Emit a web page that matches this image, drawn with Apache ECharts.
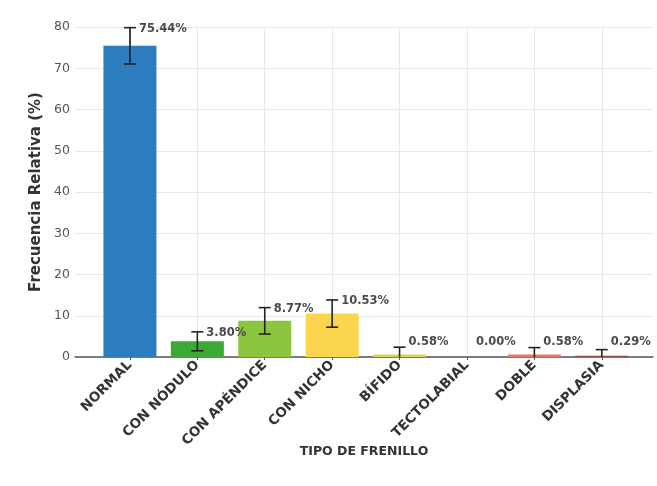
<!DOCTYPE html>
<html>
<head>
<meta charset="utf-8">
<script src="https://cdn.jsdelivr.net/npm/echarts@6/dist/echarts.min.js"></script>
<style>html,body{margin:0;padding:0;background:#fff;}#c{width:657px;height:486px;}</style>
</head>
<body>
<div id="c"></div>
<script>
var categories = ['NORMAL', 'CON NÓDULO', 'CON APÉNDICE', 'CON NICHO', 'BÍFIDO', 'TECTOLABIAL', 'DOBLE', 'DISPLASIA'];
var values = [75.44, 3.80, 8.77, 10.53, 0.58, 0.00, 0.58, 0.29];
var errors = [4.4, 2.3, 3.2, 3.3, 1.8, 0, 1.7, 1.5];
var yTicks = [0, 10, 20, 30, 40, 50, 60, 70, 80];
var colors = ['#2d7cc0', '#3aa935', '#8cc63f', '#fcd54e', '#d8d25c', '#cccccc', '#e8786c', '#9a4a4a'];

var positions = categories.map(function (c, i) { return i; });
var barData = values.map(function (v, i) {
  return { value: [i, v], itemStyle: { color: colors[i] } };
});
var errData = values.map(function (v, i) { return [i, v, errors[i]]; });

var chart = echarts.init(document.getElementById('c'), null, { renderer: 'canvas' });
chart.setOption({
  animation: false,
  backgroundColor: '#fff',
  textStyle: { fontFamily: 'DejaVu Sans' },
  grid: { left: 75, right: 4, top: 27, bottom: 129, containLabel: false },
  xAxis: {
    type: 'value',
    min: -0.815,
    max: 7.76,
    name: 'TIPO DE FRENILLO',
    nameLocation: 'middle',
    nameGap: 88,
    nameMoveOverlap: false,
    nameTextStyle: { fontWeight: 'bold', fontSize: 12.5, color: '#333', fontFamily: 'DejaVu Sans' },
    axisLine: { show: true, onZero: false, lineStyle: { color: '#555', width: 1.5 } },
    axisTick: { show: true, length: 3, customValues: positions, lineStyle: { color: '#555' } },
    axisLabel: {
      customValues: positions,
      rotate: 45,
      margin: 6,
      fontSize: 13.5,
      fontWeight: 'bold',
      color: '#333',
      fontFamily: 'DejaVu Sans',
      formatter: function (v) { return categories[Math.round(v)]; }
    },
    splitLine: { show: true, lineStyle: { color: '#e8e8e8', width: 1 } }
  },
  yAxis: {
    type: 'value',
    min: 0,
    max: 80,
    interval: 10,
    name: 'Frecuencia Relativa (%)',
    nameLocation: 'middle',
    nameGap: 29,
    nameTextStyle: { fontWeight: 'bold', fontSize: 15, color: '#333', fontFamily: 'DejaVu Sans' },
    axisLine: { show: true, lineStyle: { color: '#aaa', width: 1 } },
    axisTick: { show: true, length: 3, lineStyle: { color: '#888' } },
    axisLabel: { fontSize: 12.5, color: '#555', margin: 5, fontFamily: 'DejaVu Sans' },
    splitLine: { show: true, lineStyle: { color: '#e8e8e8', width: 1 } }
  },
  series: [
    {
      type: 'bar',
      barWidth: 53,
      data: barData,
      z: 2
    },
    {
      type: 'custom',
      clip: false,
      z: 5,
      data: errData,
      renderItem: function (params, api) {
        var x = api.value(0), v = api.value(1), e = api.value(2);
        var top = v + e, bot = Math.max(v - e, 0);
        var pt = api.coord([x, top]);
        var pb = api.coord([x, bot]);
        var cap = 6;
        var children = [];
        if (e > 0) {
          var st = { stroke: '#222', lineWidth: 1.6 };
          children.push({ type: 'line', shape: { x1: pt[0], y1: pt[1], x2: pb[0], y2: pb[1] }, style: st });
          children.push({ type: 'line', shape: { x1: pt[0] - cap, y1: pt[1], x2: pt[0] + cap, y2: pt[1] }, style: st });
          if (v - e >= 0) {
            children.push({ type: 'line', shape: { x1: pb[0] - cap, y1: pb[1], x2: pb[0] + cap, y2: pb[1] }, style: st });
          }
        }
        var ly = Math.max(top, 3.9);
        var pl = api.coord([x, ly]);
        children.push({
          type: 'text',
          x: pl[0] + 9,
          y: pl[1] + 1,
          style: {
            text: values[params.dataIndex].toFixed(2) + '%',
            fill: '#4a4a4a',
            fontSize: 11.5,
            fontWeight: 'bold',
            fontFamily: 'DejaVu Sans',
            textAlign: 'left',
            textVerticalAlign: 'middle'
          }
        });
        return { type: 'group', children: children };
      }
    }
  ]
});
</script>
</body>
</html>
